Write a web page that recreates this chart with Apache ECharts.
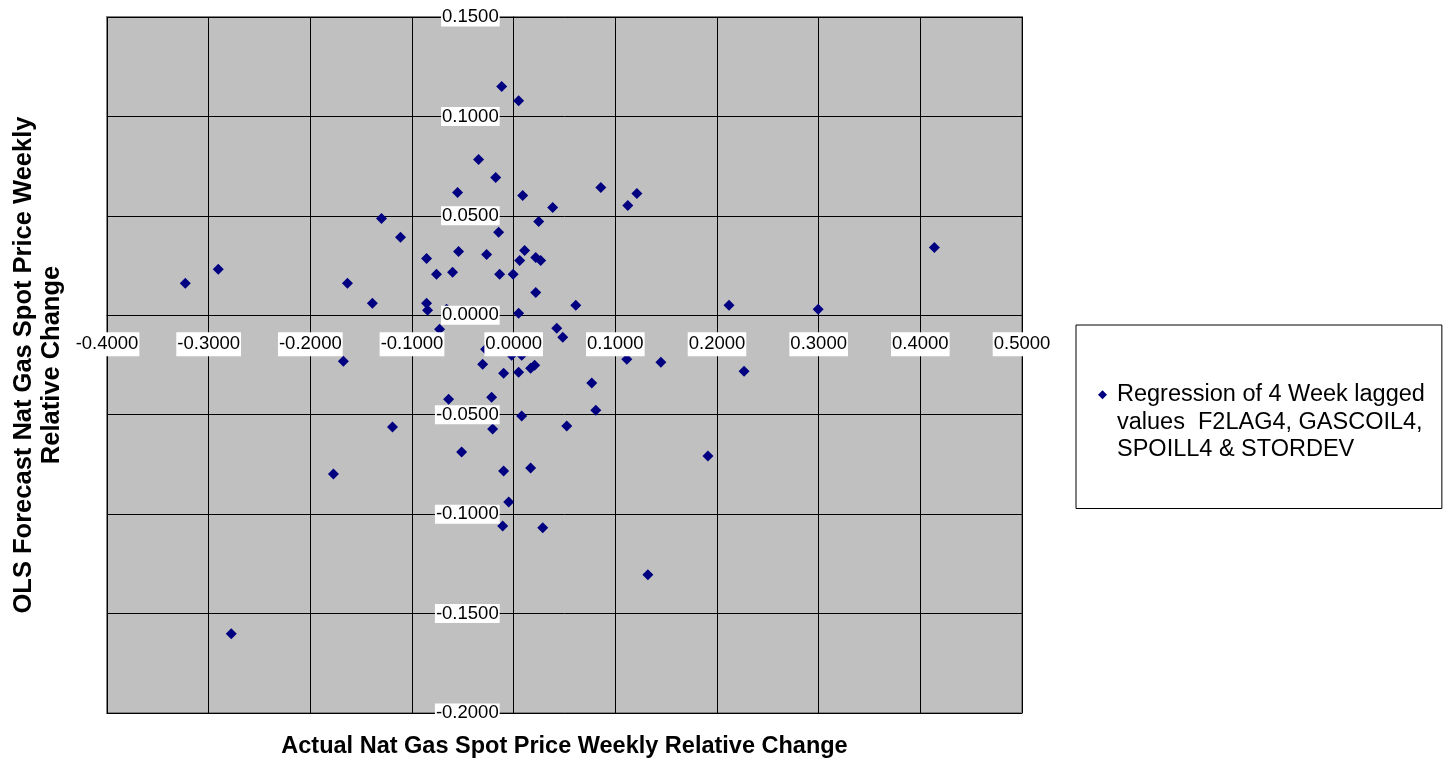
<!DOCTYPE html>
<html>
<head>
<meta charset="utf-8">
<title>OLS Forecast vs Actual</title>
<script src="https://cdn.jsdelivr.net/npm/echarts@6/dist/echarts.min.js"></script>
<style>
  html, body { margin: 0; padding: 0; background: #fff; }
  #chart { width: 1451px; height: 761px; }
</style>
</head>
<body>
<div id="chart"></div>
<script>
// actual weekly relative change (x) and OLS forecast (y)
const actualChange = [
  -0.3230, -0.2906, -0.2778, -0.1773, -0.1675, -0.1635, -0.1390, -0.1300, -0.1192, -0.1113,
  -0.0857, -0.0857, -0.0847, -0.0759, -0.0729, -0.0660, -0.0640, -0.0601, -0.0552, -0.0542,
  -0.0512, -0.0345, -0.0305, -0.0276, -0.0266, -0.0217, -0.0207, -0.0177, -0.0148, -0.0138,
  -0.0118, -0.0099, -0.0099, -0.0108, -0.0049, -0.0020, -0.0005, 0.0049, 0.0049, 0.0049,
  0.0059, 0.0079, 0.0079, 0.0089, 0.0108, 0.0167, 0.0167, 0.0207, 0.0217, 0.0217,
  0.0246, 0.0266, 0.0286, 0.0384, 0.0424, 0.0483, 0.0522, 0.0611, 0.0768, 0.0808,
  0.0857, 0.1113, 0.1123, 0.1212, 0.1320, 0.1448, 0.1911, 0.2118, 0.2266, 0.2995,
  0.4138
]
const forecastChange = [
  0.0161, 0.0231, -0.1601, -0.0798, -0.0231, 0.0161, 0.0060, 0.0487, -0.0562, 0.0392,
  0.0286, 0.0060, 0.0025, 0.0206, -0.0070, 0.0030, -0.0422, 0.0216, 0.0617, 0.0321,
  -0.0688, 0.0783, -0.0246, -0.0171, 0.0306, -0.0412, -0.0572, 0.0693, 0.0417, 0.0206,
  0.1150, -0.0291, -0.0783, -0.1059, -0.0939, -0.0201, 0.0206, 0.1079, 0.0010, -0.0286,
  0.0276, -0.0507, -0.0201, 0.0602, 0.0326, -0.0768, -0.0266, -0.0251, 0.0115, 0.0291,
  0.0472, 0.0276, -0.1069, 0.0542, -0.0065, -0.0110, -0.0557, 0.0050, -0.0341, -0.0477,
  0.0643, -0.0221, 0.0552, 0.0612, -0.1305, -0.0236, -0.0708, 0.0050, -0.0281, 0.0030,
  0.0341
]

const seriesName = 'Regression of 4 Week lagged\nvalues  F2LAG4, GASCOIL4,\nSPOILL4 & STORDEV'
const xTitle = 'Actual Nat Gas Spot Price Weekly Relative Change'
const yTitle = 'OLS Forecast Nat Gas Spot Price Weekly\nRelative Change'

const xRange = { min: -0.4, max: 0.5, interval: 0.1 }
const yRange = { min: -0.2, max: 0.15, interval: 0.05 }

const font = '"Liberation Sans", Arial, sans-serif'

const gridBox = { left: 107, top: 17, width: 915, height: 696 }

// the crossing axes sit at the zero of the other axis
const xZeroShift = -gridBox.height * (0 - yRange.min) / (yRange.max - yRange.min)
const yZeroShift = -gridBox.width * (0 - xRange.min) / (xRange.max - xRange.min)

function fmt (v) {
  if (Math.abs(v) < 1e-9) v = 0
  return v.toFixed(4)
}

const points = actualChange.map((x, i) => [x, forecastChange[i]])

const chart = echarts.init(document.getElementById('chart'))

chart.setOption({
  animation: false,
  grid: {
    ...gridBox,
    show: true,
    backgroundColor: '#C0C0C0',
    borderColor: '#808080',
    borderWidth: 2,
    outerBoundsMode: 'none'
  },
  legend: {
    orient: 'vertical',
    left: 1076,
    top: 325,
    padding: [1, 17, 45, 22],
    icon: 'diamond',
    itemWidth: 9,
    itemHeight: 9,
    backgroundColor: '#fff',
    borderColor: '#000',
    borderWidth: 1,
    selectedMode: false,
    formatter: name => '\n\n' + name,
    textStyle: {
      fontFamily: font,
      fontSize: 23.5,
      lineHeight: 27.5,
      color: '#000',
      padding: [0, 0, 0, 5]
    },
    data: [seriesName]
  },
  xAxis: [
    { // grid lines + title
      type: 'value',
      ...xRange,
      position: 'bottom',
      axisLine: { show: false, onZero: false },
      axisTick: { show: false },
      axisLabel: { show: false },
      splitLine: { show: true, lineStyle: { color: '#000', width: 1 } },
      name: xTitle,
      nameLocation: 'middle',
      nameGap: 22,
      nameTextStyle: { fontFamily: font, fontSize: 23.5, fontWeight: 'bold', color: '#000', verticalAlign: 'top' }
    },
    { // axis line through zero
      type: 'value',
      ...xRange,
      position: 'bottom',
      offset: xZeroShift,
      axisLine: { show: true, onZero: false, lineStyle: { color: '#000', width: 1 } },
      axisTick: { show: true, length: 6, lineStyle: { color: '#000' } },
      axisLabel: { show: false },
      splitLine: { show: false }
    },
    { // labels drawn above the points
      type: 'value',
      ...xRange,
      position: 'bottom',
      offset: xZeroShift,
      z: 10,
      axisLine: { show: false, onZero: false },
      axisTick: { show: false },
      splitLine: { show: false },
      axisLabel: {
        margin: 17,
        formatter: fmt,
        fontFamily: font,
        fontSize: 18.5,
        lineHeight: 20,
        color: '#000',
        backgroundColor: '#fff',
        padding: [2, 1]
      }
    }
  ],
  yAxis: [
    {
      type: 'value',
      ...yRange,
      position: 'left',
      axisLine: { show: false, onZero: false },
      axisTick: { show: false },
      axisLabel: { show: false },
      splitLine: { show: true, lineStyle: { color: '#000', width: 1 } },
      name: yTitle,
      nameLocation: 'middle',
      nameRotate: 90,
      nameGap: 41,
      nameTextStyle: { fontFamily: font, fontSize: 25.5, lineHeight: 28, fontWeight: 'bold', color: '#000', align: 'center' }
    },
    {
      type: 'value',
      ...yRange,
      position: 'left',
      offset: yZeroShift,
      axisLine: { show: true, onZero: false, lineStyle: { color: '#000', width: 1 } },
      axisTick: { show: true, length: 7, lineStyle: { color: '#000' } },
      axisLabel: { show: false },
      splitLine: { show: false }
    },
    {
      type: 'value',
      ...yRange,
      position: 'left',
      offset: yZeroShift,
      z: 10,
      axisLine: { show: false, onZero: false },
      axisTick: { show: false },
      splitLine: { show: false },
      axisLabel: {
        margin: 14,
        formatter: fmt,
        fontFamily: font,
        fontSize: 18.5,
        lineHeight: 19,
        color: '#000',
        backgroundColor: '#fff',
        padding: [0, 1]
      }
    }
  ],
  series: [{
    name: seriesName,
    type: 'scatter',
    xAxisIndex: 0,
    yAxisIndex: 0,
    symbol: 'diamond',
    symbolSize: 11,
    itemStyle: { color: '#000080', opacity: 1 },
    data: points
  }]
})
</script>
</body>
</html>
